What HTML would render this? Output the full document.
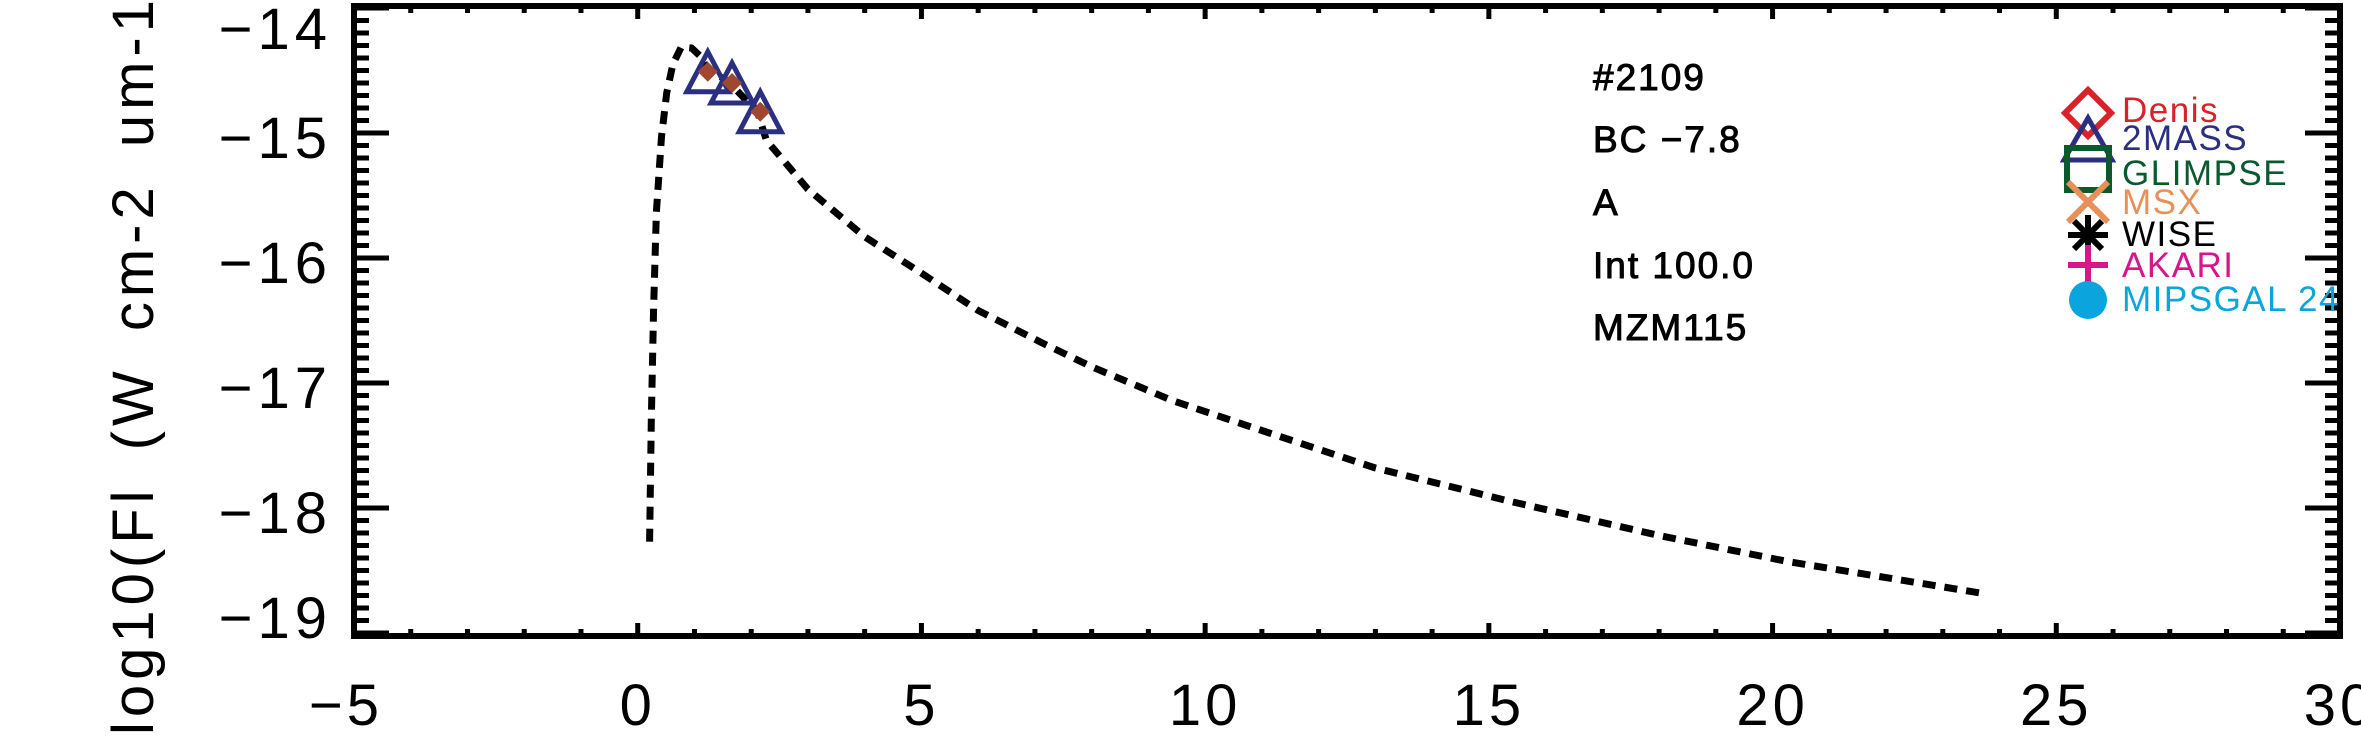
<!DOCTYPE html>
<html><head><meta charset="utf-8"><style>
html,body{margin:0;padding:0;background:#fff;}
svg{display:block;}
text{font-family:"Liberation Sans",sans-serif;}
</style></head><body>
<svg id="chart" width="2361" height="750" viewBox="0 0 2361 750" xmlns="http://www.w3.org/2000/svg">
<g id="axes"></g>
<g id="marks"></g>
<text transform="translate(153,735) rotate(-90)" font-size="58" letter-spacing="5" word-spacing="14" fill="#000">log10(Fl (W cm-2 um-1))</text>
<g font-size="37" fill="#000" stroke="#000" stroke-width="1" letter-spacing="2">
<text x="1593" y="90">#2109</text>
<text x="1593" y="152">BC  −7.8</text>
<text x="1593" y="215">A</text>
<text x="1593" y="278">Int  100.0</text>
<text x="1593" y="340">MZM115</text>
</g>
<g font-size="35" letter-spacing="1.5">
<g>
<polygon points="2088,90 2111,113 2088,136 2065,113" fill="none" stroke="#d8232a" stroke-width="6"/>
<text x="2122" y="122" fill="#d8232a">Denis</text></g>
<g>
<polygon points="2088,118 2112,160 2064,160" fill="none" stroke="#2b2f80" stroke-width="5"/>
<text x="2122" y="150" fill="#2b2f80">2MASS</text></g>
<g>
<rect x="2067" y="148" width="42" height="42" fill="none" stroke="#0b5a2e" stroke-width="6"/>
<text x="2122" y="185" fill="#0b5a2e">GLIMPSE</text></g>
<g>
<path d="M2068,182 L2108,222 M2108,182 L2068,222" stroke="#e8905a" stroke-width="6"/>
<text x="2122" y="214" fill="#e8905a">MSX</text></g>
<g>
<path d="M2068,235 L2108,235 M2088,215 L2088,255 M2074,221 L2102,249 M2102,221 L2074,249" stroke="#000" stroke-width="6"/>
<text x="2122" y="246" fill="#000">WISE</text></g>
<g>
<path d="M2068,265 L2108,265 M2088,245 L2088,285" stroke="#d6168a" stroke-width="6"/>
<text x="2122" y="277" fill="#d6168a">AKARI</text></g>
<g>
<circle cx="2088" cy="300" r="19" fill="#0aa5dc"/>
<text x="2122" y="311" fill="#0aa5dc">MIPSGAL  24</text></g>
</g>
</svg>
<script>
// data
const xTicks = [-5, 0, 5, 10, 15, 20, 25, 30];
const yTicks = [-14, -15, -16, -17, -18, -19];
const xTickLabels = ["−5", "0", "5", "10", "15", "20", "25", "30"];
const yTickLabels = ["−14", "−15", "−16", "−17", "−18", "−19"];
const modelX = [0.21, 0.24, 0.28, 0.33, 0.42, 0.51, 0.62, 0.77, 0.95, 1.09, 1.21, 1.62, 2.11, 2.27, 3.0, 4.0, 4.96, 6.0, 7.13, 8.0, 9.42, 11.13, 13.0, 15.4, 18.0, 20.28, 23.66];
const modelY = [-18.27, -17.3, -16.4, -15.63, -15.03, -14.68, -14.45, -14.31, -14.32, -14.38, -14.47, -14.6, -14.83, -15.06, -15.45, -15.83, -16.11, -16.42, -16.68, -16.87, -17.14, -17.40, -17.68, -17.95, -18.22, -18.43, -18.68];
const twomassX = [1.235, 1.662, 2.159];
const twomassY = [-14.51, -14.6, -14.83];

const X0 = 354, X1 = 2340, Y0 = 8, Y1 = 633;
const xMin = -5, xMax = 30, yMax = -14, yMin = -19;
const sx = v => X0 + (v - xMin) / (xMax - xMin) * (X1 - X0);
const sy = v => Y0 + (yMax - v) / (yMax - yMin) * (Y1 - Y0);
const NS = "http://www.w3.org/2000/svg";
const axes = document.getElementById('axes');
const marks = document.getElementById('marks');
function mk(tag, attrs, parent) {
  const e = document.createElementNS(NS, tag);
  for (const k in attrs) e.setAttribute(k, attrs[k]);
  parent.appendChild(e);
  return e;
}
const frame = mk('rect', {x: X0, y: Y0 - 2, width: X1 - X0, height: Y1 - Y0 + 5, fill: 'none', stroke: '#000', 'stroke-width': 6}, axes);


let d = '';
for (let v = xMin; v <= xMax; v += 1) {
  const major = (v % 5 === 0);
  const L = major ? 12 : 6;
  d += `M${sx(v)},${Y1 + 2}v${-L}M${sx(v)},${Y0 - 1}v${L}`;
}
for (let i = 0; i <= 50; i++) {
  const v = yMin + i * 0.1;
  const major = (i % 10 === 0);
  const L = major ? 35 : 15;
  d += `M${X0},${sy(v)}h${L}M${X1},${sy(v)}h${-L}`;
}
const ticks = mk('path', {d: d, stroke: '#000', 'stroke-width': 5, fill: 'none'}, axes);


xTicks.forEach((v, i) => {
  const t = mk('text', {x: sx(v) - (i === 0 ? 8 : 0), y: 725, 'font-size': 58, 'text-anchor': 'middle', 'letter-spacing': 4}, axes);
  t.textContent = xTickLabels[i];
  
  
});
const yLabOff = [20, 4, 4, 4, 4, -16];
yTicks.forEach((v, i) => {
  const t = mk('text', {x: 332, y: sy(v) + 21 + yLabOff[i], 'font-size': 58, 'text-anchor': 'end', 'letter-spacing': 5}, axes);
  t.textContent = yTickLabels[i];
  
  
});
const pts = modelX.map((x, i) => `${sx(x).toFixed(1)},${sy(modelY[i]).toFixed(1)}`).join(' ');
const curve = mk('polyline', {points: pts, fill: 'none', stroke: '#000', 'stroke-width': 7, 'stroke-dasharray': '13 9', 'stroke-linejoin': 'round'}, marks);


twomassX.forEach((x, i) => {
  const cx = sx(x), cy = sy(twomassY[i]);
  const tri = mk('polygon', {points: `${cx},${cy - 20} ${cx + 21},${cy + 20} ${cx - 21},${cy + 20}`, fill: 'none', stroke: '#2b2f80', 'stroke-width': 5}, marks);
  
  
  const dia = mk('polygon', {points: `${cx},${cy - 10} ${cx + 10},${cy} ${cx},${cy + 10} ${cx - 10},${cy}`, fill: '#a0472e'}, marks);
  
  
});
</script>
</body></html>
